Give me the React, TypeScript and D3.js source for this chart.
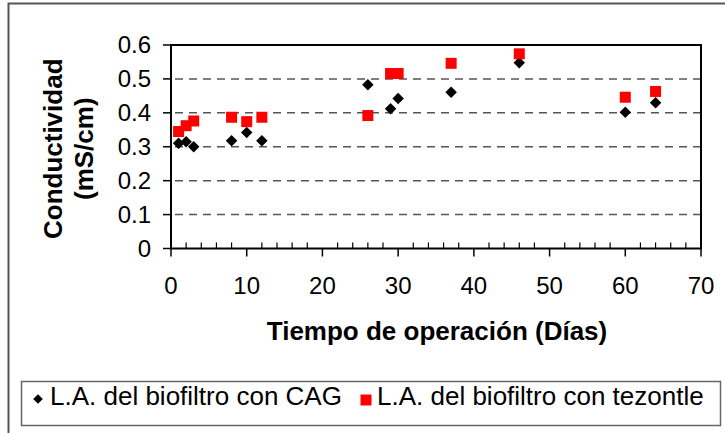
import React from "react";
import * as d3 from "d3";

const days = [1, 2, 3, 8, 10, 12, 26, 29, 30, 37, 46, 60, 64];
const cagValues = [0.31, 0.315, 0.3, 0.318, 0.342, 0.318, 0.483, 0.412, 0.442, 0.461, 0.548, 0.402, 0.43];
const tezontleValues = [0.345, 0.362, 0.376, 0.387, 0.374, 0.387, 0.392, 0.516, 0.516, 0.546, 0.574, 0.446, 0.463];
const xTicks = [0, 10, 20, 30, 40, 50, 60, 70];
const xMinorTicks = d3.range(0, 71, 2);
const yTicks = [0, 0.1, 0.2, 0.3, 0.4, 0.5, 0.6];
const seriesNames = ["L.A. del biofiltro con CAG", "L.A. del biofiltro con tezontle"];
const xTitle = "Tiempo de operación (Días)";
const yTitleLines = ["Conductividad", "(mS/cm)"];

const W = 725;
const H = 433;
const plot = { left: 171, right: 701, top: 45, bottom: 248.5 };
const FONT = "'Liberation Sans', Arial, sans-serif";

export default function App() {
  const x = d3.scaleLinear().domain([0, 70]).range([plot.left, plot.right]);
  const y = d3.scaleLinear().domain([0, 0.6]).range([plot.bottom, plot.top]);
  const diamond = d3.symbol().type(d3.symbolDiamond2).size(84)();
  const square = d3.symbol().type(d3.symbolSquare).size(121)();
  const legendDiamond = d3.symbol().type(d3.symbolDiamond2).size(60)();
  const legendSquare = d3.symbol().type(d3.symbolSquare).size(121)();
  const yMid = (plot.top + plot.bottom) / 2;

  return (
    <div style={{ position: "fixed", left: 0, top: 0, width: W, height: H, background: "#fff" }}>
      <svg width={W} height={H} style={{ display: "block" }} fontFamily={FONT}>
        <rect x={0} y={0} width={W} height={H} fill="#fff" />
        {/* outer chart frame */}
        <rect x={8.5} y={3.5} width={740} height={450} fill="none" stroke="#555" strokeWidth={2} />

        {/* gridlines */}
        {yTicks
          .filter((t) => t > 0 && t < 0.6)
          .map((t) => (
            <line
              key={"g" + t}
              x1={plot.left}
              x2={plot.right}
              y1={y(t)}
              y2={y(t)}
              stroke="#555"
              strokeWidth={1.5}
              strokeDasharray="8,6"
              strokeDashoffset={-4}
            />
          ))}

        {/* plot border */}
        <rect
          x={plot.left}
          y={plot.top}
          width={plot.right - plot.left}
          height={plot.bottom - plot.top}
          fill="none"
          stroke="#000"
          strokeWidth={2}
        />

        {/* y ticks and labels */}
        {yTicks.map((t) => (
          <g key={"y" + t}>
            <line x1={plot.left - 8} x2={plot.left} y1={y(t)} y2={y(t)} stroke="#000" strokeWidth={1.5} />
            <text x={plot.left - 20} y={y(t)} dy="0.35em" textAnchor="end" fontSize={24} fill="#000">
              {d3.format(".1~f")(t)}
            </text>
          </g>
        ))}

        {/* x minor ticks (inside) */}
        {xMinorTicks
          .filter((t) => t % 10 !== 0)
          .map((t) => (
            <line key={"m" + t} x1={x(t)} x2={x(t)} y1={plot.bottom - 6} y2={plot.bottom} stroke="#000" strokeWidth={1.2} />
          ))}
        {/* x major ticks and labels */}
        {xTicks.map((t) => (
          <g key={"x" + t}>
            <line x1={x(t)} x2={x(t)} y1={plot.bottom} y2={plot.bottom + 8} stroke="#000" strokeWidth={1.5} />
            <text x={x(t)} y={294} textAnchor="middle" fontSize={24} fill="#000">
              {t}
            </text>
          </g>
        ))}

        {/* axis titles */}
        <text x={(plot.left + plot.right) / 2 + 1} y={340} textAnchor="middle" fontSize={26} fontWeight="bold" fill="#000">
          {xTitle}
        </text>
        <g transform={`translate(0,${yMid + 2}) rotate(-90)`}>
          <text x={0} y={62} textAnchor="middle" fontSize={26} fontWeight="bold" fill="#000">
            {yTitleLines[0]}
          </text>
          <text x={0} y={93} textAnchor="middle" fontSize={26} fontWeight="bold" fill="#000">
            {yTitleLines[1]}
          </text>
        </g>

        {/* series: CAG (diamonds) */}
        {days.map((d, i) => (
          <path key={"c" + i} d={diamond} transform={`translate(${x(d)},${y(cagValues[i])})`} fill="#000" />
        ))}
        {/* series: tezontle (squares) */}
        {days.map((d, i) => (
          <path key={"t" + i} d={square} transform={`translate(${x(d)},${y(tezontleValues[i])})`} fill="#ff0000" />
        ))}

        {/* legend */}
        <rect x={21.5} y={381.5} width={699} height={44} fill="#fff" stroke="#666" strokeWidth={1.5} />
        <path d={legendDiamond} transform="translate(38,399)" fill="#000" />
        <text x={50} y={405} fontSize={26} fill="#000">
          {seriesNames[0]}
        </text>
        <path d={legendSquare} transform="translate(366,400)" fill="#ff0000" />
        <text x={377} y={405} fontSize={26} fill="#000">
          {seriesNames[1]}
        </text>
      </svg>
    </div>
  );
}
